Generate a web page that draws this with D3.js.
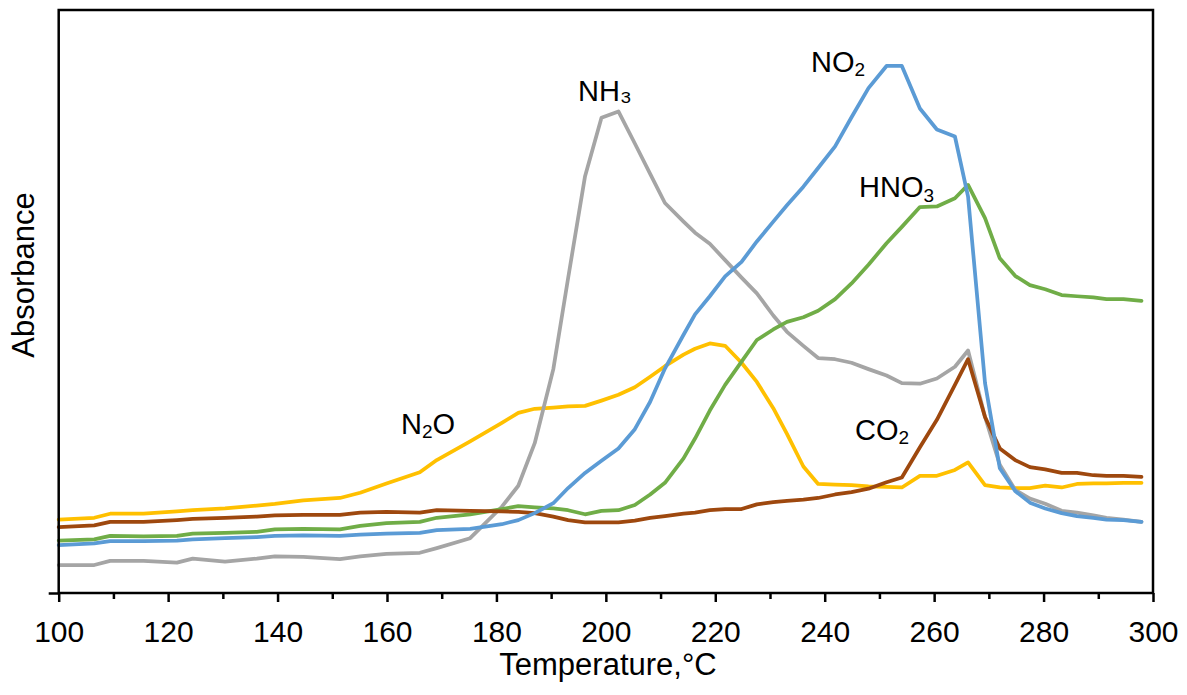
<!DOCTYPE html>
<html>
<head>
<meta charset="utf-8">
<script src="https://cdn.jsdelivr.net/npm/d3@7"></script>
<style>
  body { margin: 0; background: #fff; }
  svg { display: block; }
  text { font-family: "Liberation Sans", Arial, Helvetica, sans-serif; fill: #000; }
</style>
</head>
<body>
<svg id="chart" width="1187" height="695"></svg>
<script>
// Temperature readings (°C) shared by all gas traces
const temperatures = [100,106.5,109.4,115.5,121.6,124.5,130.4,136.2,139.5,144.7,151.4,155.1,159.9,166.0,169.1,175.2,181.0,184.0,187.0,190.4,193.1,196.2,199.2,202.3,205.3,208.1,210.8,214.2,216.3,219.0,221.8,224.8,227.6,230.6,233.1,236.1,238.8,241.9,244.9,248.0,251.3,254.1,257.4,260.5,263.8,266.2,269.3,272.0,274.8,277.5,280.3,283.3,286.1,289.1,291.5,294.6,297.9];

// Absorbance traces (arbitrary units)
const n2o  = [0.126,0.129,0.136,0.136,0.140,0.142,0.145,0.150,0.153,0.159,0.163,0.172,0.188,0.207,0.228,0.260,0.292,0.309,0.316,0.318,0.320,0.321,0.330,0.340,0.353,0.371,0.389,0.409,0.419,0.428,0.424,0.395,0.362,0.317,0.273,0.217,0.187,0.186,0.185,0.183,0.182,0.181,0.201,0.201,0.211,0.224,0.185,0.181,0.180,0.180,0.184,0.181,0.187,0.188,0.188,0.189,0.189];
const nh3  = [0.048,0.048,0.055,0.055,0.052,0.059,0.054,0.059,0.063,0.062,0.058,0.063,0.067,0.069,0.077,0.094,0.148,0.184,0.257,0.384,0.540,0.715,0.815,0.826,0.771,0.719,0.669,0.637,0.618,0.599,0.571,0.541,0.514,0.476,0.448,0.424,0.403,0.401,0.395,0.384,0.373,0.360,0.359,0.368,0.388,0.416,0.302,0.220,0.177,0.162,0.153,0.141,0.138,0.133,0.129,0.126,0.122];
const hno3 = [0.090,0.092,0.098,0.097,0.098,0.102,0.103,0.105,0.109,0.110,0.109,0.115,0.120,0.122,0.129,0.135,0.144,0.149,0.147,0.145,0.142,0.135,0.141,0.142,0.151,0.169,0.189,0.231,0.265,0.313,0.357,0.397,0.434,0.452,0.465,0.473,0.484,0.504,0.531,0.563,0.600,0.628,0.662,0.663,0.677,0.700,0.643,0.574,0.544,0.528,0.521,0.511,0.509,0.507,0.504,0.504,0.501];
const co2  = [0.113,0.116,0.122,0.122,0.125,0.127,0.129,0.131,0.133,0.134,0.134,0.138,0.139,0.138,0.142,0.141,0.140,0.139,0.137,0.131,0.125,0.121,0.121,0.121,0.124,0.129,0.132,0.136,0.138,0.142,0.144,0.144,0.152,0.156,0.158,0.160,0.163,0.169,0.173,0.179,0.190,0.198,0.250,0.297,0.357,0.401,0.302,0.248,0.228,0.216,0.212,0.206,0.206,0.202,0.201,0.201,0.199];
const no2  = [0.082,0.085,0.089,0.089,0.090,0.092,0.094,0.096,0.098,0.099,0.098,0.100,0.102,0.103,0.108,0.110,0.118,0.125,0.137,0.154,0.180,0.206,0.227,0.248,0.281,0.328,0.385,0.443,0.478,0.509,0.543,0.568,0.603,0.637,0.665,0.697,0.729,0.766,0.816,0.866,0.904,0.904,0.831,0.795,0.783,0.680,0.360,0.214,0.175,0.155,0.145,0.137,0.132,0.129,0.126,0.125,0.122];

// Axis ticks
const xTickValues = [100,110,120,130,140,150,160,170,180,190,200,210,220,230,240,250,260,270,280,290,300];
const xTickLabels = [100,120,140,160,180,200,220,240,260,280,300];

const series = [
  { name: "N2O",  values: n2o,  color: "#FFC000" },
  { name: "NH3",  values: nh3,  color: "#A5A5A5" },
  { name: "HNO3", values: hno3, color: "#70AD47" },
  { name: "CO2",  values: co2,  color: "#9E480E" },
  { name: "NO2",  values: no2,  color: "#5B9BD5" }
];

const svg = d3.select("#chart");
const plot = { left: 58.7, right: 1153, top: 10, bottom: 593 };

const x = d3.scaleLinear().domain([100, 300]).range([plot.left, plot.right]);
const y = d3.scaleLinear().domain([0, 1]).range([plot.bottom, plot.top]);

// Traces
const line = d3.line()
  .x((d, i) => x(temperatures[i]))
  .y(d => y(d));

svg.append("g").selectAll("path")
  .data(series)
  .join("path")
  .attr("d", d => line(d.values))
  .attr("fill", "none")
  .attr("stroke", d => d.color)
  .attr("stroke-width", 3.75)
  .attr("stroke-linejoin", "round")
  .attr("stroke-linecap", "round");

// Plot frame
svg.append("rect")
  .attr("x", plot.left).attr("y", plot.top)
  .attr("width", plot.right - plot.left)
  .attr("height", plot.bottom - plot.top)
  .attr("fill", "none")
  .attr("stroke", "#000")
  .attr("stroke-width", 2.5);

// X axis
const xAxis = svg.append("g")
  .attr("transform", `translate(0,${plot.bottom})`)
  .call(d3.axisBottom(x)
    .tickValues(xTickValues)
    .tickSize(9)
    .tickFormat(d => xTickLabels.includes(d) ? d : ""));
xAxis.select(".domain").remove();
xAxis.selectAll(".tick line")
  .attr("stroke", "#000")
  .attr("stroke-width", 2.5)
  .attr("y2", d => xTickLabels.includes(d) ? 9 : 6);
xAxis.selectAll(".tick text")
  .attr("y", 49)
  .attr("dy", 0)
  .attr("font-size", 30)
  .attr("font-family", "Liberation Sans, Arial, sans-serif")
  .attr("fill", "#000");

// Y axis: only the baseline tick, no labels
const yAxis = svg.append("g")
  .attr("transform", `translate(${plot.left},0)`)
  .call(d3.axisLeft(y).tickValues([0]).tickSize(10).tickFormat(""));
yAxis.select(".domain").remove();
yAxis.selectAll(".tick line").attr("stroke", "#000").attr("stroke-width", 2.5);

// Axis titles
svg.append("text")
  .attr("x", 608).attr("y", 675)
  .attr("text-anchor", "middle")
  .attr("font-size", 31)
  .text("Temperature,°C");

svg.append("text")
  .attr("transform", "translate(34,275) rotate(-90)")
  .attr("text-anchor", "middle")
  .attr("font-size", 31)
  .text("Absorbance");

// Trace labels
const labels = svg.append("g").attr("font-size", 29);

const lNO2 = labels.append("text").attr("x", 811).attr("y", 72);
lNO2.append("tspan").text("NO");
lNO2.append("tspan").attr("font-size", 19).attr("dy", 4).text("2");

labels.append("text").attr("x", 578).attr("y", 101).text("NH₃");

const lHNO3 = labels.append("text").attr("x", 859).attr("y", 197);
lHNO3.append("tspan").text("HNO");
lHNO3.append("tspan").attr("font-size", 19).attr("dy", 5).text("3");

const lN2O = labels.append("text").attr("x", 401).attr("y", 434);
lN2O.append("tspan").text("N");
lN2O.append("tspan").attr("font-size", 19).attr("dy", 4).text("2");
lN2O.append("tspan").attr("dy", -4).text("O");

const lCO2 = labels.append("text").attr("x", 855).attr("y", 440);
lCO2.append("tspan").text("CO");
lCO2.append("tspan").attr("font-size", 19).attr("dy", 4).text("2");
</script>
</body>
</html>
